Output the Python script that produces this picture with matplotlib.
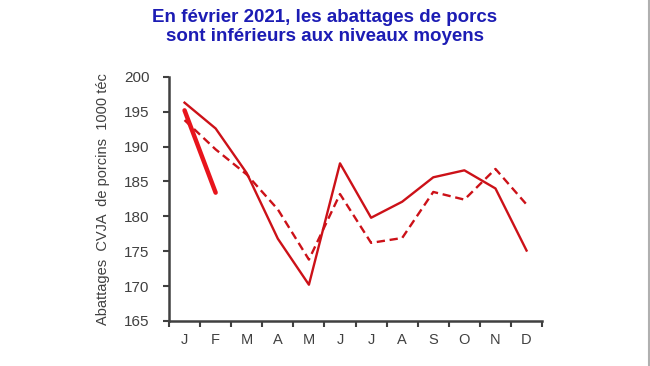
import matplotlib.pyplot as plt
from matplotlib.lines import Line2D

plt.rcParams['font.family'] = ['Liberation Sans', 'DejaVu Sans']

months = ['J', 'F', 'M', 'A', 'M', 'J', 'J', 'A', 'S', 'O', 'N', 'D']
y2020 = [196.3, 192.6, 186.2, 176.8, 170.2, 187.6, 179.8, 182.1, 185.6, 186.6, 184.0, 175.1]
moyenne = [193.8, 189.6, 186.0, 181.0, 173.8, 183.2, 176.2, 176.9, 183.5, 182.4, 186.8, 181.7]
y2021 = [195.2, 183.4]

x = list(range(1, 13))

fig = plt.figure(figsize=(6.5, 3.66), dpi=100)
ax = fig.add_axes([0.26, 0.123, 0.574, 0.667])

ax.plot(x, y2020, color='#cc1118', lw=1.7)
ax.plot(x, moyenne, color='#cc1118', lw=1.7, ls=(0, (3.5, 2)))
ax.plot(x[:2], y2021, color='#e8141c', lw=3.2, solid_capstyle='round')

ax.set_xlim(0.5, 12.5)
ax.set_ylim(165, 200)
ax.set_yticks(range(165, 201, 5))
ax.set_xticks([i + 0.5 for i in range(0, 13)])
ax.set_xticklabels([])
ax.set_xticks(x, minor=True)
ax.set_xticklabels(months, minor=True)
ax.tick_params(axis='x', which='minor', length=0, pad=9, labelsize=10.5, labelcolor='#404040')
ax.tick_params(axis='x', which='major', length=4, width=1.5, color='#404040')
ax.tick_params(axis='y', length=4, width=1.5, color='#404040', labelsize=11, labelcolor='#404040', pad=10)

for s in ['top', 'right']:
    ax.spines[s].set_visible(False)
for s in ['left', 'bottom']:
    ax.spines[s].set_color('#404040')
    ax.spines[s].set_linewidth(1.8)

ax.set_ylabel('Abattages  CVJA  de porcins  1000 téc', color='#404040', fontsize=10.5, labelpad=10)

fig.text(0.5, 0.975, 'En février 2021, les abattages de porcs\nsont inférieurs aux niveaux moyens',
         ha='center', va='top', color='#1c1cb4', fontsize=13.5, fontweight='bold', linespacing=1.15)

fig.add_artist(Line2D([0.998, 0.998], [0, 1], transform=fig.transFigure, color='#b0b0b0', lw=1.5))

fig.savefig('out.png', dpi=100)
